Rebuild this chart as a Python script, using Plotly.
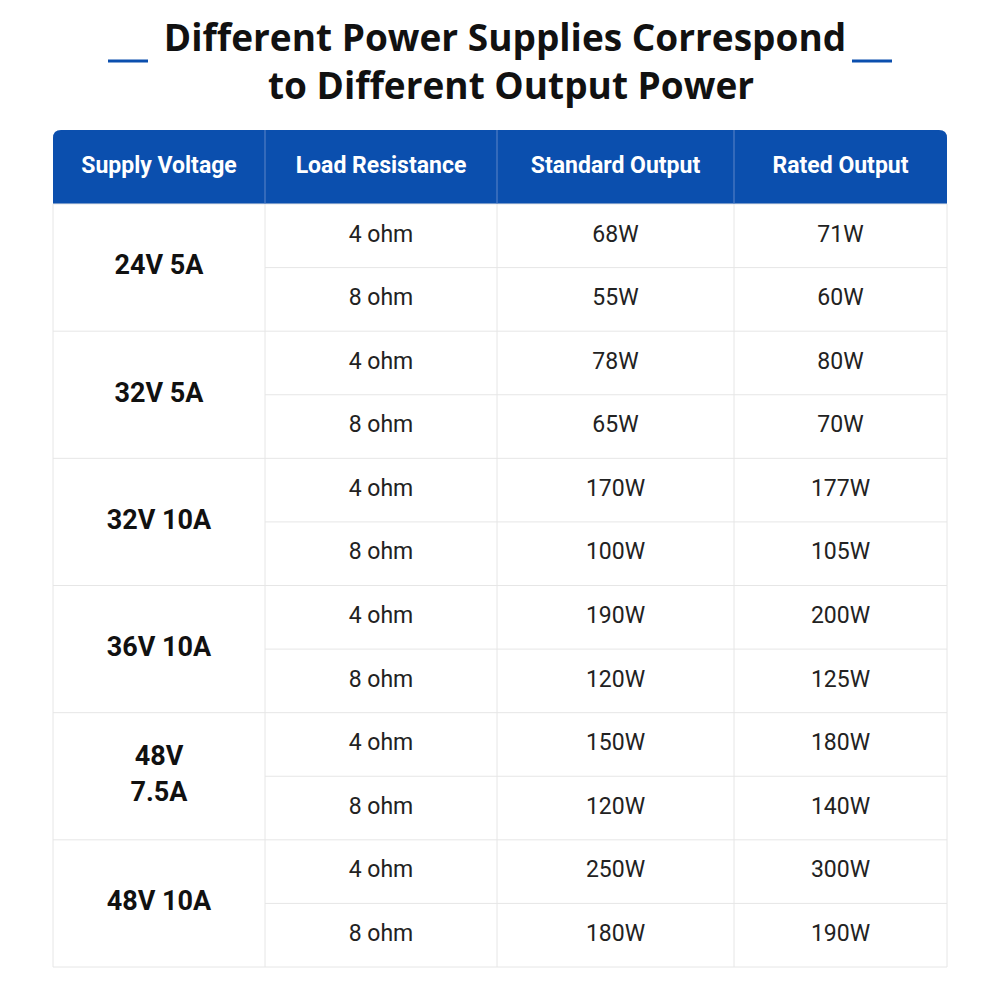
import plotly.graph_objects as go

headers = ["Supply Voltage", "Load Resistance", "Standard Output", "Rated Output"]
supplies = ["24V 5A", "32V 5A", "32V 10A", "36V 10A", "48V<br>7.5A", "48V 10A"]
loads = ["4 ohm", "8 ohm"] * 6
standard = ["68W", "55W", "78W", "65W", "170W", "100W", "190W", "120W", "150W", "120W", "250W", "180W"]
rated = ["71W", "60W", "80W", "70W", "177W", "105W", "200W", "125W", "180W", "140W", "300W", "190W"]
title_lines = ["Different Power Supplies Correspond", "to Different Output Power"]

# layout geometry (pixels)
col_edges = [53, 265, 497, 734, 947]
head_top, head_bot, table_bot = 130, 204, 967
nsub = len(loads)
sub_h = (table_bot - head_bot) / nsub
BLUE = "#0b4fae"
GRID = "#e6e6e6"

fig = go.Figure()
shapes = []
r = 8
x0, x1 = col_edges[0], col_edges[-1]
shapes.append(dict(type="path", path=f"M {x0},{head_bot} L {x0},{head_top+r} Q {x0},{head_top} {x0+r},{head_top} "
                   f"L {x1-r},{head_top} Q {x1},{head_top} {x1},{head_top+r} L {x1},{head_bot} Z",
                   fillcolor=BLUE, line=dict(width=0), layer="below"))
shapes.append(dict(type="rect", x0=x0, x1=x1, y0=head_bot, y1=table_bot, line=dict(color=GRID, width=1), fillcolor="white", layer="below"))
for xe in col_edges[1:-1]:
    shapes.append(dict(type="line", x0=xe, x1=xe, y0=head_top, y1=head_bot, line=dict(color="#5f86c8", width=1)))
    shapes.append(dict(type="line", x0=xe, x1=xe, y0=head_bot, y1=table_bot, line=dict(color=GRID, width=1)))
for i in range(1, nsub):
    y = head_bot + i * sub_h
    xs = x0 if i % 2 == 0 else col_edges[1]
    shapes.append(dict(type="line", x0=xs, x1=x1, y0=y, y1=y, line=dict(color=GRID, width=1)))
# title decorations
for a, b in [(108, 148), (852, 892)]:
    shapes.append(dict(type="line", x0=a, x1=b, y0=61, y1=61, line=dict(color=BLUE, width=3)))

cx = [(col_edges[i] + col_edges[i + 1]) / 2 for i in range(4)]
fig.add_trace(go.Scatter(x=cx, y=[(head_top + head_bot) / 2] * 4, text=headers, mode="text",
                         textfont=dict(family="Roboto", size=23, color="white", weight="bold")))
ys_sub = [head_bot + (i + 0.5) * sub_h for i in range(nsub)]
ys_grp = [head_bot + (2 * g + 1) * sub_h for g in range(len(supplies))]
fig.add_trace(go.Scatter(x=[cx[0]] * len(supplies), y=ys_grp, text=supplies, mode="text",
                         textfont=dict(family="Roboto", size=27, color="#111", weight="bold")))
for c, col in zip(cx[1:], [loads, standard, rated]):
    fig.add_trace(go.Scatter(x=[c] * nsub, y=ys_sub, text=col, mode="text",
                             textfont=dict(family="Roboto", size=23, color="#222")))
fig.add_trace(go.Scatter(x=[505, 511], y=[42, 90], text=title_lines, mode="text",
                         textfont=dict(family="Open Sans", size=37, color="#111", weight="bold")))

fig.update_layout(width=1000, height=1000, margin=dict(l=0, r=0, t=0, b=0), showlegend=False,
                  plot_bgcolor="white", paper_bgcolor="white", shapes=shapes,
                  xaxis=dict(range=[8, 1008], visible=False, fixedrange=True),
                  yaxis=dict(range=[1008, 8], visible=False, fixedrange=True))
fig.write_html("out.html")
